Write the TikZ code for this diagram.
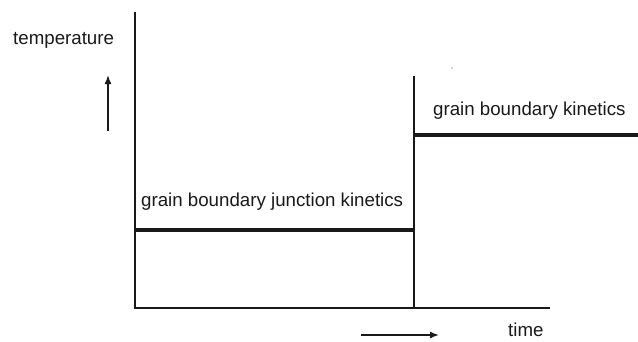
\documentclass[tikz,border=0pt]{standalone}
\usepackage{fontspec}
\setmainfont{Liberation Sans}
\usetikzlibrary{arrows.meta}
\begin{document}
\begin{tikzpicture}[x=1pt,y=-1pt,
  axis/.style={line width=1.5pt,black!90},
  level/.style={line width=3.6pt,black!90},
  hint/.style={line width=1.5pt,black!90,-{Latex[length=9pt,width=7pt]}},
  lbl/.style={anchor=base west,inner sep=0pt,font=\fontsize{18.7}{22}\selectfont,text=black!90}]
\useasboundingbox (0,0) rectangle (638,341);
% axes
\coordinate (ytop) at (135,12);
\coordinate (org) at (135,308);
\coordinate (xend) at (550,308);
\coordinate (jtop) at (414,76);
\coordinate (jbot) at (414,308);
\draw[axis] (ytop) -- (org) -- (xend);
\draw[axis] (jtop) -- (jbot);
% temperature levels
\coordinate (lowL) at (134,230);
\coordinate (lowR) at (414,230);
\coordinate (highL) at (414,135);
\coordinate (highR) at (638,135);
\draw[level] (lowL) -- (lowR);
\draw[level] (highL) -- (highR);
% direction arrows
\coordinate (upS) at (108,131);
\coordinate (upE) at (108,75);
\draw[hint] (upS) -- (upE);
\coordinate (rtS) at (361,335);
\coordinate (rtE) at (439,335);
\draw[hint] (rtS) -- (rtE);
% labels
\node[lbl] (temp) at (13,44) {temperature};
\node[lbl] (tim) at (508,336) {time};
\node[lbl] (gbj) at (141,206) {grain boundary junction kinetics};
\node[lbl] (gbk) at (433,115) {grain boundary kinetics};
\fill[black!70] (452,68) circle (0.7);
\end{tikzpicture}
\end{document}
